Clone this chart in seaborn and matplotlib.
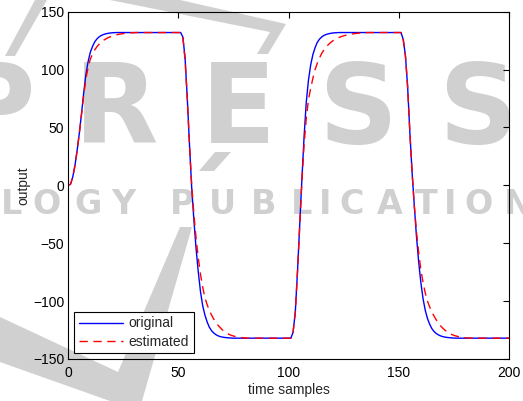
import numpy as np
import pandas as pd
import matplotlib
matplotlib.use("Agg")
import matplotlib.pyplot as plt
import seaborn as sns
from matplotlib.patches import Polygon

# ---------------- data ----------------
samples = list(range(201))

orig_rise1 = [0, 1, 7, 17, 30, 45, 62, 80, 96, 107, 115, 120, 124, 126.5, 128.3,
              129.5, 130.3, 130.9, 131.3, 131.6, 131.8, 131.9]
orig_high1 = [132] * 30
orig_fall1 = [128, 110, 75, 35, -2, -30, -55, -75, -92, -104, -112, -118, -122.5,
              -125.5, -127.5, -129, -130, -130.7, -131.1, -131.4, -131.6, -131.8, -131.9]
orig_low1 = [-132] * 27
orig_rise2 = [-127, -110, -75, -35, 5, 42, 72, 91, 104, 113, 119, 123.5, 126.3,
              128.2, 129.5, 130.3, 130.9, 131.3, 131.6, 131.8, 131.9]
orig_high2 = [132] * 29
orig_fall2 = [126, 112, 85, 46, 12, -17, -44, -66, -84, -98, -108, -115, -120,
              -123.8, -126.3, -128, -129.2, -130.1, -130.7, -131.1, -131.4, -131.6,
              -131.8, -131.9]
orig_low2 = [-132] * 25

est_rise1 = [0, 1, 7, 17, 30, 45, 61, 78, 92, 102, 109, 113.5, 117, 119.8, 122,
             123.8, 125.3, 126.5, 127.5, 128.3, 129, 129.6, 130.1, 130.5, 130.8,
             131.1, 131.3, 131.5, 131.7, 131.8, 131.9]
est_high1 = [132] * 21
est_fall1 = [128, 108, 75, 35, 0, -25, -46, -63, -77, -88, -97, -103, -108, -112,
             -115.5, -118.5, -121, -123, -125, -126.5, -127.8, -128.8, -129.6,
             -130.2, -130.7, -131.1, -131.4, -131.6, -131.8, -131.9]
est_low1 = [-132] * 20
est_rise2 = [-127, -110, -75, -35, 3, 35, 58, 74, 84, 92.5, 100, 105.5, 110, 114,
             117, 119.5, 121.5, 123.3, 124.8, 126, 127, 127.9, 128.6, 129.2, 129.7,
             130.1, 130.5, 130.8, 131.1, 131.3, 131.5, 131.7, 131.8, 131.9]
est_high2 = [132] * 16
est_fall2 = [126, 112, 85, 46, 12, -17, -40, -58, -73, -84, -93, -100, -105, -109.5,
             -113, -116.2, -119, -121.5, -123.5, -125.2, -126.6, -127.8, -128.8,
             -129.6, -130.2, -130.7, -131.1, -131.4, -131.6, -131.8, -131.9]
est_low2 = [-132] * 18

original = (orig_rise1 + orig_high1 + orig_fall1 + orig_low1 +
            orig_rise2 + orig_high2 + orig_fall2 + orig_low2)
estimated = (est_rise1 + est_high1 + est_fall1 + est_low1 +
             est_rise2 + est_high2 + est_fall2 + est_low2)
assert len(original) == len(samples), len(original)
assert len(estimated) == len(samples), len(estimated)

series_labels = ["original", "estimated"]
x_ticks = [0, 50, 100, 150, 200]
y_ticks = [-150, -100, -50, 0, 50, 100, 150]

df = pd.DataFrame({
    "sample": samples * 2,
    "value": original + estimated,
    "series": [series_labels[0]] * len(samples) + [series_labels[1]] * len(samples),
})

# ---------------- style ----------------
sns.set_theme(style="white")
plt.rcParams["font.family"] = ["Liberation Sans", "DejaVu Sans"]
plt.rcParams["axes.unicode_minus"] = True

W, H = 523, 401
fig = plt.figure(figsize=(W / 100, H / 100), dpi=100)
fig.patch.set_facecolor("white")

# ---------------- watermark (behind the axes) ----------------
wm = "#d0d0d0"
def px(x, y):
    return (x / W, 1 - y / H)

shapes = [
    [(5, 56), (35, 0), (47, 0), (15, 56)],
    [(110, 0), (180, 0), (286, 24), (268, 54), (257, 54), (270, 32)],
    [(215, 152), (231, 152), (214, 171), (199, 171)],
    [(0, 317), (118, 372), (180, 227), (192, 227), (142, 401), (110, 401), (0, 362)],
]
for s in shapes:
    fig.patches.append(Polygon([px(*p) for p in s], closed=True, facecolor=wm,
                               edgecolor="none", transform=fig.transFigure,
                               zorder=-5))

for ch, cx in zip("PRESS", [-5, 116, 238, 358, 478]):
    fig.text(cx / W, 1 - 143 / H, ch, ha="center", va="baseline",
             fontsize=79, fontweight="bold", color=wm,
             family=["DejaVu Sans"], zorder=-5)

for ch, cx in zip("LOGYPUBLICATIONS",
                  [12, 47, 88, 123, 182, 223, 264, 302, 325, 352, 390, 426,
                   450, 479, 518, 558]):
    fig.text(cx / W, 1 - 214 / H, ch, ha="center", va="baseline",
             fontsize=24, fontweight="bold", color=wm,
             family=["DejaVu Sans"], zorder=-5)

# ---------------- axes ----------------
left, right, top, bottom = 68.3, 509.0, 11.7, 359.0
ax = fig.add_axes([left / W, 1 - bottom / H, (right - left) / W, (bottom - top) / H])
ax.set_facecolor("none")

sns.lineplot(data=df[df["series"] == "original"], x="sample", y="value",
             ax=ax, color="#0000ff", linewidth=1.0, label="original")
sns.lineplot(data=df[df["series"] == "estimated"], x="sample", y="value",
             ax=ax, color="#ff0000", linewidth=1.0, linestyle=(0, (6, 4)),
             label="estimated")

ax.set_xlim(0, 200)
ax.set_ylim(-150, 150)
ax.set_xticks(x_ticks)
ax.set_yticks(y_ticks)
ax.set_xlabel("time samples", fontsize=10, labelpad=2)
ax.set_ylabel("output", fontsize=10, labelpad=1.5)

for sp in ax.spines.values():
    sp.set_color("black")
    sp.set_linewidth(0.8)
ax.tick_params(direction="in", top=True, right=True, length=4.5, width=0.8,
               colors="black", labelsize=10)
ax.tick_params(axis="x", pad=5)
ax.tick_params(axis="y", pad=3)

leg = ax.legend(loc="lower left", fontsize=10, frameon=True, fancybox=False,
                framealpha=1, edgecolor="black", borderaxespad=0.4,
                handlelength=3.2, handletextpad=0.4, labelspacing=0.3,
                borderpad=0.35)
leg.get_frame().set_linewidth(0.8)
leg.get_frame().set_facecolor("white")

fig.savefig("out.png", dpi=100)
